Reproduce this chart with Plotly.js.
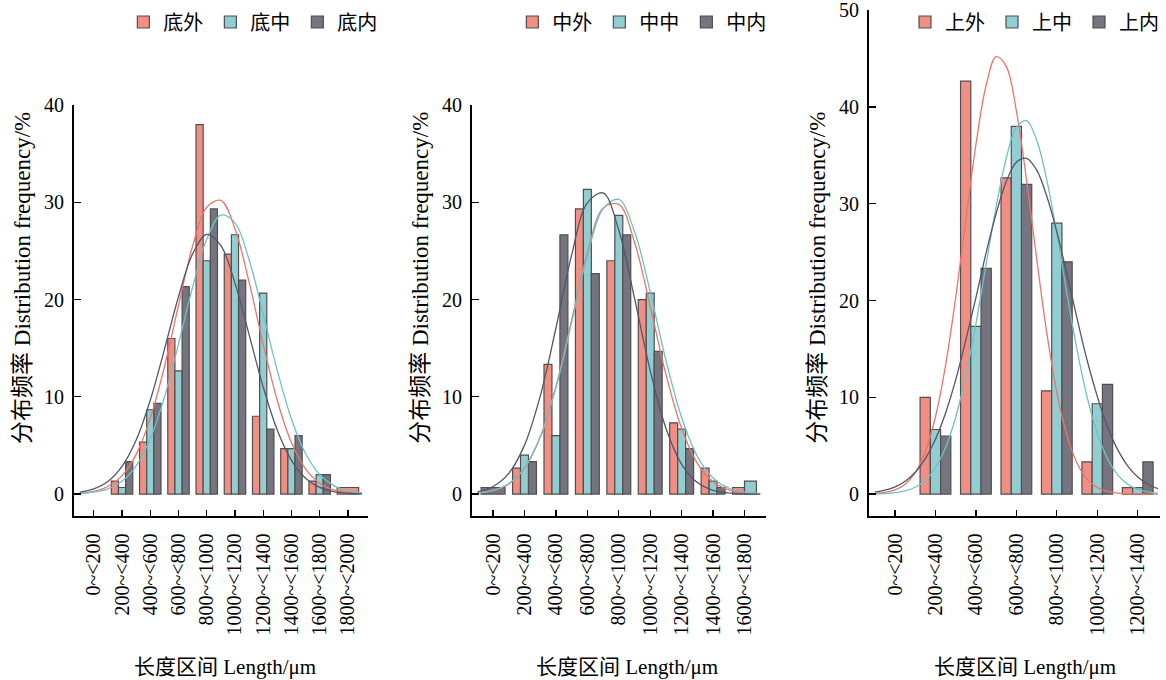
<!DOCTYPE html>
<html><head><meta charset="utf-8">
<script src="https://cdn.plot.ly/plotly-3.0.1.min.js"></script>
<style>html,body{margin:0;padding:0;background:#fff}#chart{width:1166px;height:680px}</style>
</head><body><div id="chart"></div>
<script>
// ---------- DATA ----------
const cats1 = ['0~<200','200~<400','400~<600','600~<800','800~<1000','1000~<1200','1200~<1400','1400~<1600','1600~<1800','1800~<2000'];
const cats2 = ['0~<200','200~<400','400~<600','600~<800','800~<1000','1000~<1200','1200~<1400','1400~<1600','1600~<1800'];
const cats3 = ['0~<200','200~<400','400~<600','600~<800','800~<1000','1000~<1200','1200~<1400'];

const names1 = ['底外','底中','底内'];
const names2 = ['中外','中中','中内'];
const names3 = ['上外','上中','上内'];

const diOut = [0, 1.33, 5.33, 16, 38, 24.67, 8, 4.67, 1.33, 0.67];
const diMid = [0, 0.67, 8.67, 12.67, 24, 26.67, 20.67, 4.67, 2, 0];
const diIn  = [0, 3.33, 9.33, 21.33, 29.33, 22, 6.67, 6, 2, 0];

const zhongOut = [0, 2.67, 13.33, 29.33, 24, 20, 7.33, 2.67, 0.67];
const zhongMid = [0, 4, 6, 31.33, 28.67, 20.67, 6.67, 1.33, 1.33];
const zhongIn  = [0.67, 3.33, 26.67, 22.67, 26.67, 14.67, 4.67, 0.67, 0];

const shangOut = [0, 10, 42.67, 32.67, 10.67, 3.33, 0.67];
const shangMid = [0, 6.67, 17.33, 38, 28, 9.33, 0.67];
const shangIn  = [0, 6, 23.33, 32, 24, 11.33, 3.33];

// fitted distribution curves (length in μm, frequency in %)
const fitLen1 = [0,100,200,300,400,500,600,700,800,900,1000,1100,1200,1300,1400,1500,1600,1700,1800,1900,2000];
const fitDiOut = [0.09,0.28,0.78,1.89,4.08,7.78,13.07,19.4,25.5,29.5,30.2,27.3,21.8,15.4,9.6,5.29,2.58,1.11,0.42,0.14,0.04];
const fitDiMid = [0.06,0.19,0.53,1.31,2.89,5.69,9.94,15.45,21.3,26.2,28.7,27.9,24.1,18.5,12.7,7.72,4.17,2.01,0.86,0.33,0.11];
const fitDiIn  = [0.19,0.52,1.29,2.84,5.55,9.64,14.86,20.3,24.7,26.7,25.55,21.7,16.4,11.0,6.56,3.47,1.63,0.68,0.25,0.08,0.02];

const fitLen2 = [0,100,200,300,400,500,600,700,800,900,1000,1100,1200,1300,1400,1500,1600,1700,1800];
const fitZhongOut = [0.10,0.34,1.03,2.66,5.86,11.07,17.9,24.8,29.4,29.8,25.9,19.3,12.3,6.74,3.15,1.26,0.43,0.13,0.03];
const fitZhongMid = [0.11,0.37,1.08,2.71,5.87,10.96,17.65,24.5,29.35,30.3,27.0,20.8,13.76,7.87,3.88,1.65,0.60,0.19,0.05];
const fitZhongIn  = [0.23,0.77,2.13,5.03,10.07,17.08,24.6,29.96,30.97,27.13,20.15,12.7,6.77,3.06,1.18,0.38,0.11,0.02,0.0];

const fitLen3 = [0,50,100,150,200,250,300,350,400,450,500,550,600,650,700,750,800,850,900,950,1000,1050,1100,1150,1200,1250,1300,1350,1400];
const fitShangOut = [0.06,0.17,0.43,1.02,2.21,4.39,7.99,13.3,20.3,28.3,36.1,42.2,45.2,44.2,39.6,32.5,24.4,16.7,10.5,6.06,3.19,1.54,0.68,0.27,0.10,0.03,0.01,0,0];
const fitShangMid = [0.02,0.05,0.14,0.32,0.70,1.43,2.71,4.80,7.94,12.25,17.6,23.7,29.7,34.7,37.9,38.6,36.6,32.5,26.9,20.7,14.9,10.0,6.29,3.68,2.01,1.02,0.49,0.22,0.09];
const fitShangIn  = [0.20,0.40,0.74,1.32,2.25,3.66,5.66,8.37,11.8,15.9,20.3,24.9,29.0,32.3,34.3,34.7,33.5,30.8,27.1,22.7,18.15,13.8,10.1,6.98,4.62,2.91,1.75,1.01,0.55];

const yTicks1 = [0,10,20,30,40];
const yTicks3 = [0,10,20,30,40,50];
const yTitle = '分布频率 Distribution frequency/%';
const xTitle = '长度区间 Length/μm';

// ---------- STYLE / LAYOUT ----------
const W = 1166, H = 680;
const fillColors = ['#F28F84', '#91CDD1', '#75747F'];
const lineColors = ['#EE7468', '#6FC1C6', '#545668'];
const edge = '#4f4f4f';
const serif = 'Liberation Serif, "Noto Sans CJK SC", serif';
const cjk = '"Noto Sans CJK SC", Liberation Serif, sans-serif';

const panels = [
  {cats: cats1, names: names1, series: [diOut, diMid, diIn], fx: fitLen1, fits: [fitDiOut, fitDiMid, fitDiIn],
   xdom: [74, 370], ytop: 105, xr: [-43, 2043], yr: [-2.26, 40.02], yt: yTicks1, legX: 124, xTitleX: 226},
  {cats: cats2, names: names2, series: [zhongOut, zhongMid, zhongIn], fx: fitLen2, fits: [fitZhongOut, fitZhongMid, fitZhongIn],
   xdom: [474, 770], ytop: 105, xr: [-37, 1837], yr: [-2.26, 40.02], yt: yTicks1, legX: 515, xTitleX: 630},
  {cats: cats3, names: names3, series: [shangOut, shangMid, shangIn], fx: fitLen3, fits: [fitShangOut, fitShangMid, fitShangIn],
   xdom: [873, 1166], ytop: 10, xr: [-31, 1410], yr: [-2.27, 50.03], yt: yTicks3, legX: 910, xTitleX: 1030}
];
const yBottom = 516;
const groupFrac = 0.76;

const traces = [];
const layout = {
  width: W, height: H,
  margin: {l: 0, r: 0, t: 0, b: 0},
  paper_bgcolor: '#fff', plot_bgcolor: 'rgba(0,0,0,0)',
  barmode: 'overlay',
  showlegend: true,
  font: {family: serif, size: 20, color: '#000'},
  annotations: []
};

panels.forEach((p, pi) => {
  const sfx = pi === 0 ? '' : String(pi + 1);
  const xa = 'x' + sfx, ya = 'y' + sfx;
  const legName = 'legend' + sfx;
  // bin centres from the category labels
  const bins = p.cats.map(c => { const m = c.match(/(\d+)~<(\d+)/); return [Number(m[1]), Number(m[2])]; });
  const centers = bins.map(b => (b[0] + b[1]) / 2);
  const binW = bins[0][1] - bins[0][0];
  const gw = binW * groupFrac;
  // each category: non-zero series share the group width
  const offs = p.series.map(() => []), wids = p.series.map(() => []);
  p.cats.forEach((c, i) => {
    const nz = p.series.map((s, k) => s[i] > 0 ? k : -1).filter(k => k >= 0);
    p.series.forEach((s, k) => {
      const pos = nz.indexOf(k);
      const n = Math.max(nz.length, 1);
      wids[k].push(gw / n);
      offs[k].push(-gw / 2 + (pos < 0 ? 0 : pos) * gw / n);
    });
  });
  p.series.forEach((s, k) => {
    traces.push({
      type: 'bar', x: centers, y: s.map(v => v > 0 ? v : null),
      name: p.names[k], xaxis: xa, yaxis: ya, legend: legName,
      offset: offs[k], width: wids[k],
      marker: {color: fillColors[k], line: {color: edge, width: 1.2}},
      hoverinfo: 'x+y'
    });
  });
  p.fits.forEach((f, k) => {
    traces.push({
      type: 'scatter', mode: 'lines', x: p.fx, y: f, xaxis: xa, yaxis: ya,
      line: {color: lineColors[k], width: 1.3, shape: 'spline', smoothing: 1},
      showlegend: false, hoverinfo: 'skip'
    });
  });
  layout['xaxis' + sfx] = {
    domain: [p.xdom[0] / W, p.xdom[1] / W], anchor: ya, range: p.xr,
    tickmode: 'array', tickvals: centers, ticktext: p.cats, tickangle: -90,
    ticks: 'inside', ticklen: 6, tickwidth: 1.3, tickcolor: '#000',
    showline: true, linecolor: '#000', linewidth: 1.5,
    showgrid: false, zeroline: false, fixedrange: true,
    ticklabelstandoff: 8, ticklabeloverflow: 'allow',
    tickfont: {family: serif, size: 20, color: '#000'}
  };
  layout['yaxis' + sfx] = {
    domain: [(H - yBottom) / H, (H - p.ytop) / H], anchor: xa, range: p.yr,
    tickmode: 'array', tickvals: p.yt,
    ticks: 'inside', ticklen: 7, tickwidth: 1.3, tickcolor: '#000',
    showline: true, linecolor: '#000', linewidth: 1.5,
    showgrid: false, zeroline: false, fixedrange: true,
    ticklabelstandoff: 4, ticklabeloverflow: 'allow',
    tickfont: {family: serif, size: 20, color: '#000'}
  };
  layout[legName] = {
    x: p.legX / W, y: 1 - 22 / H, xref: 'paper', yref: 'paper',
    xanchor: 'left', yanchor: 'middle', orientation: 'h',
    bgcolor: 'rgba(0,0,0,0)', borderwidth: 0,
    font: {family: cjk, size: 20, color: '#000'},
    entrywidth: 42, itemclick: false, itemdoubleclick: false
  };
  layout.annotations.push({
    xref: 'paper', yref: 'paper', x: (p.xdom[0] - 52) / W, y: 1 - 278 / H,
    text: yTitle, textangle: -90, showarrow: false, xanchor: 'center', yanchor: 'middle',
    font: {family: serif, size: 23, color: '#000'}
  });
  layout.annotations.push({
    xref: 'paper', yref: 'paper', x: p.xTitleX / W, y: 1 - 667 / H,
    text: xTitle, showarrow: false, xanchor: 'center', yanchor: 'middle',
    font: {family: serif, size: 21, color: '#000'}
  });
});

Plotly.newPlot('chart', traces, layout, {displayModeBar: false, staticPlot: true});
</script>
</body></html>
